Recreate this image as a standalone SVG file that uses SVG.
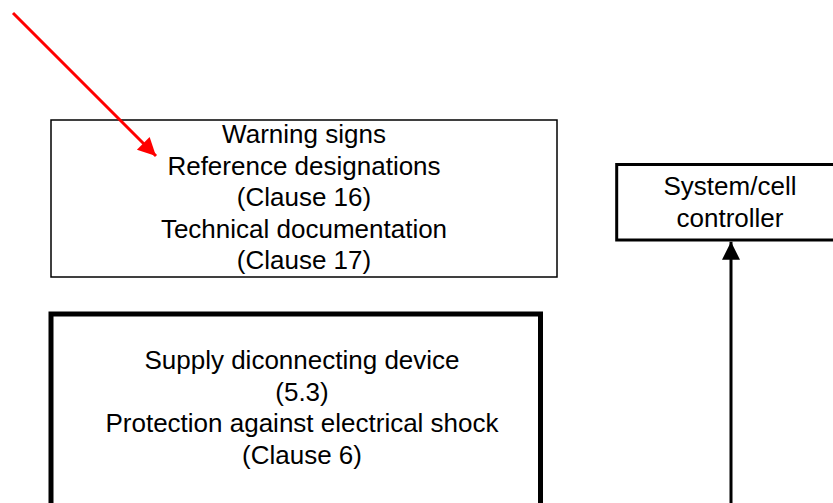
<svg xmlns="http://www.w3.org/2000/svg" width="833" height="503" viewBox="0 0 833 503">
<style>
text{font-family:"Liberation Sans",Arial,sans-serif;font-size:26px;fill:#000;text-anchor:middle}
.box{fill:#fff;stroke:#000}
</style>
<defs>
<marker id="ah" viewBox="0 0 10 10" refX="10" refY="5" markerWidth="6" markerHeight="6" markerUnits="strokeWidth" orient="auto">
<path d="M0,0L10,5L0,10z" fill="#000"/>
</marker>
<marker id="ahr" viewBox="0 0 10 10" refX="10" refY="5" markerWidth="7" markerHeight="6" markerUnits="strokeWidth" orient="auto">
<path d="M0,0L10,5L0,10z" fill="#f00"/>
</marker>
</defs>
<rect width="833" height="503" fill="#fff"/>
<g id="warning-box">
<rect class="box" x="51" y="120" width="506" height="157" stroke-width="1.5"/>
<text x="304" y="143">Warning signs</text>
<text x="304" y="174.5">Reference designations</text>
<text x="304" y="206">(Clause 16)</text>
<text x="304" y="237.5">Technical documentation</text>
<text x="304" y="269">(Clause 17)</text>
</g>
<g id="supply-box">
<rect class="box" x="51" y="314" width="489.5" height="220" stroke-width="5"/>
<text x="302" y="369">Supply diconnecting device</text>
<text x="302" y="400.5">(5.3)</text>
<text x="302" y="432">Protection against electrical shock</text>
<text x="302" y="463.5">(Clause 6)</text>
</g>
<g id="controller-box">
<rect class="box" x="616.7" y="164.5" width="240" height="75.5" stroke-width="3"/>
<text x="730" y="195">System/cell</text>
<text x="730" y="226.5">controller</text>
</g>
<g id="connectors">
<line x1="731" y1="510" x2="731" y2="241.7" stroke="#000" stroke-width="3" marker-end="url(#ah)"/>
<line x1="13" y1="13" x2="156" y2="156" stroke="#f00" stroke-width="3" marker-end="url(#ahr)"/>
</g>
</svg>
